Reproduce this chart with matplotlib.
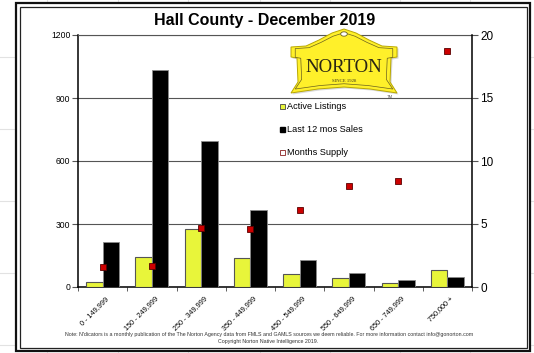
import matplotlib
matplotlib.use("Agg")
import matplotlib.pyplot as plt
import numpy as np
from matplotlib.patches import Polygon, Rectangle, Circle
from matplotlib.lines import Line2D

plt.rcParams['font.family'] = ['Liberation Sans', 'DejaVu Sans']

# ---- data ----
categories = ["0 - 149,999", "150 - 249,999", "250 - 349,999", "350 - 449,999",
              "450 - 549,999", "550 - 649,999", "650 - 749,999", "750,000 +"]
active_listings = [25, 143, 274, 137, 61, 41, 21, 79]
sales_12mo = [214, 1031, 697, 366, 127, 66, 32, 47]
months_supply = [1.6, 1.7, 4.7, 4.6, 6.1, 8.0, 8.4, 18.7]
left_ticks = [0, 300, 600, 900, 1200]
right_ticks = [0, 5, 10, 15, 20]

W, H = 534, 353
fig = plt.figure(figsize=(W / 100, H / 100), dpi=100)
fig.patch.set_facecolor('white')


def fx(x):
    return x / W


def fy(y):
    return 1 - y / H


# faint worksheet cell lines behind the frame
for x in [47, 118, 188, 260, 330, 400, 470]:
    fig.add_artist(Line2D([fx(x), fx(x)], [0, 1], transform=fig.transFigure,
                          color='#e2e2e2', lw=0.8, zorder=-5))
for y in [57, 129, 201, 273, 345]:
    fig.add_artist(Line2D([0, 1], [fy(y), fy(y)], transform=fig.transFigure,
                          color='#e2e2e2', lw=0.8, zorder=-5))

# white frame interior with a double border
fig.add_artist(Rectangle((fx(16), fy(351)), fx(530) - fx(16), fy(3) - fy(351),
                         transform=fig.transFigure, facecolor='white',
                         edgecolor='#111111', lw=1.6, zorder=-4))
fig.add_artist(Rectangle((fx(19.5), fy(347.5)), fx(526.5) - fx(19.5), fy(6.5) - fy(347.5),
                         transform=fig.transFigure, facecolor='none',
                         edgecolor='#222222', lw=0.9, zorder=-3))

# ---- axes ----
ax = fig.add_axes([fx(78), fy(287), fx(472) - fx(78), fy(35) - fy(287)])
ax.set_facecolor('none')
ax2 = ax.twinx()

x = np.arange(len(categories))
bw = 0.335
yellow = '#e8f53a'
ax.bar(x - bw / 2, active_listings, bw, color=yellow, edgecolor='#555555',
       lw=0.8, zorder=3, label='Active Listings')
ax.bar(x + bw / 2, sales_12mo, bw, color='black', edgecolor='#8a8a8a',
       lw=0.6, zorder=3, label='Last 12 mos Sales')

ax.set_xlim(-0.5, len(categories) - 0.5)
ax.set_ylim(0, 1200)
ax.set_yticks(left_ticks)
ax.set_yticklabels([str(v) for v in left_ticks], fontsize=6.2)
ax.yaxis.grid(True, color='#555555', lw=0.8, zorder=0)
ax.set_axisbelow(True)
ax.tick_params(axis='y', direction='out', length=4, width=0.8, color='#555555', pad=1.5)

ax.set_xticks(x + 0.05)
ax.set_xticklabels(categories, rotation=45, ha='right', va='top',
                   rotation_mode='anchor', fontsize=5.2)
ax.tick_params(axis='x', which='major', length=0, pad=6)
ax.set_xticks(np.arange(-0.5, len(categories), 1.0), minor=True)
ax.tick_params(axis='x', which='minor', direction='out', length=3, width=0.6, color='#444444')

for side in ['left', 'bottom']:
    ax.spines[side].set_color('black')
    ax.spines[side].set_linewidth(1.1)
ax.spines['top'].set_color('#555555')
ax.spines['top'].set_linewidth(0.8)
ax.spines['right'].set_visible(False)

ax2.plot(x, months_supply, linestyle='none', marker='s', markersize=4,
         markerfacecolor='#cc0000', markeredgecolor='#5a0000', markeredgewidth=0.6,
         zorder=5)
ax2.set_ylim(0, 20)
ax2.set_yticks(right_ticks)
ax2.set_yticklabels([str(v) for v in right_ticks], fontsize=8.5)
ax2.tick_params(axis='y', direction='out', length=4, width=0.8, color='#555555', pad=2)
ax2.spines['right'].set_color('black')
ax2.spines['right'].set_linewidth(1.1)
for side in ['left', 'top', 'bottom']:
    ax2.spines[side].set_visible(False)

# legend
handles = [
    Line2D([], [], linestyle='none', marker='s', markersize=3.6,
           markerfacecolor=yellow, markeredgecolor='#444444', markeredgewidth=0.6),
    Line2D([], [], linestyle='none', marker='s', markersize=3.6,
           markerfacecolor='black', markeredgecolor='black'),
    Line2D([], [], linestyle='none', marker='s', markersize=3.6,
           markerfacecolor='white', markeredgecolor='#8a2020', markeredgewidth=0.6),
]
leg = ax2.legend(handles, ['Active Listings', 'Last 12 mos Sales', 'Months Supply'],
                 loc='upper left', bbox_to_anchor=(fx(279), fy(102)),
                 bbox_transform=fig.transFigure, frameon=False, fontsize=6.6,
                 handlelength=0.6, handletextpad=0.25, labelspacing=1.55,
                 borderpad=0, borderaxespad=0)

# ---- company badge ----
cx = 344
half = [(0, 29), (12, 33), (25, 40), (38, 46), (53, 47), (53, 57), (47, 58),
        (46, 82), (53, 93), (26, 89), (0, 87)]
right = [(cx + dx, y) for dx, y in half]
left = [(cx - dx, y) for dx, y in reversed(half[1:-1])]
pts = right + [(cx, 87)] + left
badge = [(fx(px), fy(py)) for px, py in pts]
fig.add_artist(Polygon([(fx(px + 1.5), fy(py + 1.5)) for px, py in pts],
                       closed=True, transform=fig.transFigure,
                       facecolor='#d8d8d8', edgecolor='none', zorder=6))
fig.add_artist(Polygon(badge, closed=True, transform=fig.transFigure,
                       facecolor='#fff02a', edgecolor='#b9a800', lw=0.7, zorder=7))
inner = [(fx(cx + (px - cx) * 0.92), fy(60 + (py - 60) * 0.88)) for px, py in pts]
fig.add_artist(Polygon(inner, closed=True, transform=fig.transFigure,
                       facecolor='none', edgecolor='#6a6020', lw=0.5, zorder=8))
fig.add_artist(Circle((fx(cx), fy(34)), 3.3 / W, transform=fig.transFigure,
                      facecolor='white', edgecolor='#6a6020', lw=0.6, zorder=9))
fig.text(fx(cx), fy(67.5), 'NORTON', ha='center', va='center', fontsize=13.5,
         family=['Liberation Serif', 'DejaVu Serif'], color='#2a2614', zorder=10)
fig.text(fx(cx), fy(80.5), 'SINCE 1928', ha='center', va='center', fontsize=3.4,
         family=['Liberation Serif', 'DejaVu Serif'], color='#3a3520', zorder=10)
fig.text(fx(390), fy(97), 'TM', ha='center', va='center', fontsize=3, color='#555555',
         zorder=10)

# ---- titles and notes ----
fig.text(fx(265), fy(20), 'Hall County - December 2019', ha='center', va='center',
         fontsize=11.5, fontweight='bold', color='black')
fig.text(fx(269), fy(334.5),
         "Note: N'dicators is a monthly publication of the The Norton Agency data from "
         "FMLS and GAMLS sources we deem reliable. For more information contact info@gonorton.com",
         ha='center', va='center', fontsize=3.8, color='#333333')
fig.text(fx(268), fy(341), 'Copyright Norton Native Intelligence 2019.', ha='center',
         va='center', fontsize=3.8, color='#333333')

fig.savefig('out.png', dpi=100, facecolor='white')
